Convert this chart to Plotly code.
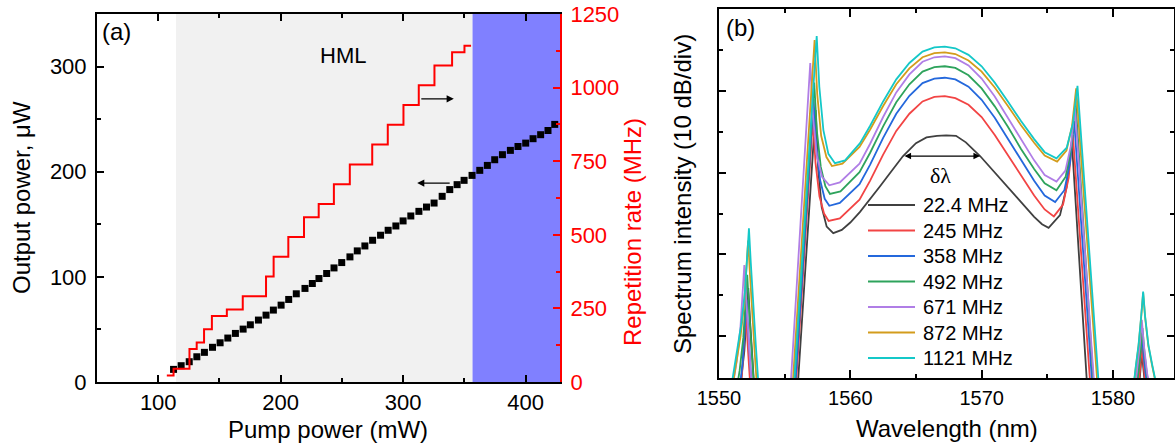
import plotly.graph_objects as go

# ---------------- panel (a) data ----------------
PUMP_MW = [112.5, 118.7, 125.3, 131.5, 137.7, 144.3, 150.5, 156.8, 163.0, 169.3,
           175.2, 181.8, 188.0, 194.0, 200.3, 206.5, 212.7, 219.8, 225.8, 231.2,
           237.5, 243.5, 249.8, 256.5, 262.5, 268.7, 275.0, 281.5, 287.7, 294.0,
           299.9, 306.2, 312.8, 319.0, 325.2, 331.8, 338.0, 344.0, 349.7, 356.2,
           362.5, 368.7, 374.7, 381.0, 387.5, 393.7, 400.0, 406.0, 412.2, 418.2, 423.7]
OUTPUT_UW = [12, 15.5, 19.3, 24, 28.2, 33, 37.3, 41.8, 46.2, 50.3,
             54.4, 58.9, 63.6, 68.4, 73.1, 78.5, 83.9, 89, 93.7, 98.4,
             103.2, 108.5, 113.6, 119, 124.7, 129.4, 134.8, 139.6, 144.3, 148.4,
             153.2, 157.9, 162.3, 166.4, 170.2, 176.6, 183, 187.7, 191.8, 196.5,
             201.3, 206, 211.4, 216.2, 220.3, 224, 227.2, 231.4, 235.2, 239.2, 245]
REP_PUMP_MW = [107, 112.5, 125.5, 131.4, 137.4, 143.8, 156, 169, 188, 194.2,
               206.2, 219, 231, 243.4, 256.4, 274.7, 287.4, 300.2, 312.7, 325.5,
               339.9, 350, 355.4]
REP_RATE_MHZ = [22.4, 44.8, 112, 134.4, 179.2, 224, 246.4, 291.2, 358.4, 425.6,
                492.8, 560, 604.8, 672, 739.2, 806.4, 873.6, 940.8, 1008, 1075.2,
                1120, 1142.4, 1142.4]
HML_START_MW = 114.5
HML_END_MW = 356.6

# ---------------- panel (b) data ----------------
WL_22 = [1550.80, 1551.25, 1551.65, 1551.93, 1552.10, 1552.23, 1552.37, 1552.55, 1552.75, 1553.0,
         1555.96, 1557.36, 1557.56, 1557.82, 1558.2, 1558.7, 1559.35, 1560.0, 1560.74, 1561.5,
         1562.25, 1563.0, 1564.0, 1565.0, 1565.8, 1566.6, 1567.3, 1568.05, 1568.8, 1569.9,
         1571.0, 1572.0, 1573.0, 1574.0, 1574.6, 1575.1, 1575.97, 1576.48, 1576.87, 1578.07,
         1581.4, 1581.65, 1581.85, 1582.05, 1582.2, 1582.35, 1582.6, 1582.9, 1583.35]
DB_22 = [-74.3, -69.8, -65.8, -61.8, -57.6, -54.1, -58.3, -63.8, -68.3, -74.3,
         -67, -32.35, -39.7, -44.2, -46.6, -47.4, -47.0, -46.1, -44.8, -43.3,
         -41.7, -40.1, -38.0, -36.4, -35.7, -35.5, -35.45, -35.5, -36.3, -38.0,
         -40.0, -41.9, -43.6, -45.4, -46.3, -46.75, -45.2, -41.7, -36.2, -67,
         -74.5, -71, -68.5, -65, -62, -65, -68.5, -71, -74.5]

WL_245 = [1550.62, 1551.07, 1551.47, 1551.75, 1551.92, 1552.05, 1552.19, 1552.37, 1552.57, 1552.82,
          1555.82, 1557.15, 1557.35, 1557.65, 1558.0, 1558.35, 1559.2, 1560.7, 1561.5, 1562.5,
          1563.5, 1564.5, 1565.5, 1566.4, 1567.2, 1568.0, 1569.0, 1570.0, 1571.0, 1572.0,
          1573.0, 1574.0, 1574.8, 1575.5, 1576.2, 1576.63, 1576.95, 1578.32,
          1581.4, 1581.65, 1581.85, 1582.05, 1582.2, 1582.35, 1582.6, 1582.9, 1583.35]
DB_245 = [-77.2, -72.7, -68.7, -64.7, -60.5, -57, -61.2, -66.7, -71.2, -77.2,
          -67, -33.5, -38.8, -42.9, -45.0, -45.9, -45.6, -43.3, -41.0, -37.8,
          -34.9, -32.8, -31.3, -30.75, -30.65, -30.9, -31.7, -33.2, -35.4, -37.9,
          -40.45, -42.8, -44.5, -45.35, -43.9, -40.6, -35.4, -67,
          -73.8, -70.3, -67.8, -64.3, -61.3, -64.3, -67.8, -70.3, -73.8]

WL_358 = [1550.67, 1551.12, 1551.52, 1551.8, 1551.97, 1552.1, 1552.24, 1552.42, 1552.62, 1552.87,
          1555.77, 1557.2, 1557.4, 1557.7, 1558.05, 1558.4, 1559.2, 1560.7, 1561.5, 1562.5,
          1563.5, 1564.5, 1565.5, 1566.4, 1567.2, 1568.0, 1569.0, 1570.0, 1571.0, 1572.0,
          1573.0, 1574.0, 1574.8, 1575.6, 1576.3, 1576.73, 1577.05, 1578.47,
          1581.4, 1581.65, 1581.85, 1582.05, 1582.2, 1582.35, 1582.6, 1582.9, 1583.35]
DB_358 = [-75.7, -71.2, -67.2, -63.2, -59.0, -55.5, -59.7, -65.2, -69.7, -75.7,
          -67, -31, -36.6, -40.9, -43.2, -44.05, -43.7, -41.4, -39.05, -35.75,
          -32.8, -30.6, -29.05, -28.5, -28.4, -28.6, -29.5, -31.1, -33.3, -35.9,
          -38.5, -41.0, -42.8, -43.6, -42.15, -38.85, -33.7, -67,
          -72.1, -68.6, -66.1, -62.6, -59.6, -62.6, -66.1, -68.6, -72.1]

WL_492 = [1550.72, 1551.17, 1551.57, 1551.85, 1552.02, 1552.15, 1552.29, 1552.47, 1552.67, 1552.92,
          1555.67, 1557.25, 1557.45, 1557.75, 1558.1, 1558.45, 1559.25, 1560.7, 1561.5, 1562.5,
          1563.5, 1564.5, 1565.5, 1566.4, 1567.2, 1568.0, 1569.0, 1570.0, 1571.0, 1572.0,
          1573.0, 1574.0, 1574.8, 1575.7, 1576.4, 1576.83, 1577.15, 1578.57,
          1581.45, 1581.7, 1581.9, 1582.1, 1582.25, 1582.4, 1582.65, 1582.95, 1583.4]
DB_492 = [-72.7, -68.2, -64.2, -60.2, -56.0, -52.5, -56.7, -62.2, -66.7, -72.7,
          -67, -29, -34.85, -39.3, -41.65, -42.6, -42.3, -39.95, -37.6, -34.35,
          -31.4, -29.2, -27.65, -27.1, -27.0, -27.2, -28.1, -29.7, -31.9, -34.4,
          -37.1, -39.55, -41.3, -42.15, -40.5, -36.9, -31.2, -67,
          -71.5, -68, -65.5, -62, -59, -62, -65.5, -68, -71.5]

WL_671 = [1550.5, 1550.95, 1551.35, 1551.63, 1551.8, 1551.93, 1552.07, 1552.25, 1552.45, 1552.7,
          1555.42, 1556.95, 1557.15, 1557.45, 1557.85, 1558.4, 1559.2, 1560.7, 1561.5, 1562.5,
          1563.5, 1564.5, 1565.5, 1566.4, 1567.2, 1568.0, 1569.0, 1570.0, 1571.0, 1572.0,
          1573.0, 1574.0, 1574.8, 1575.7, 1576.38, 1576.8, 1577.1, 1578.62,
          1581.4, 1581.65, 1581.85, 1582.05, 1582.2, 1582.35, 1582.6, 1582.9, 1583.35]
DB_671 = [-71.5, -67.0, -63.0, -59.0, -54.8, -51.3, -55.5, -61.0, -65.5, -71.5,
          -67, -26.6, -33.0, -37.95, -40.5, -41.55, -41.2, -38.9, -36.5, -33.2,
          -30.2, -28.0, -26.45, -25.9, -25.8, -26.0, -26.9, -28.5, -30.7, -33.3,
          -36.0, -38.5, -40.3, -41.1, -39.75, -36.7, -32.0, -67,
          -70.5, -67, -64.5, -61, -58, -61, -64.5, -67, -70.5]

WL_872 = [1550.79, 1551.24, 1551.64, 1551.92, 1552.09, 1552.22, 1552.36, 1552.54, 1552.74, 1552.99,
          1555.57, 1557.28, 1557.48, 1557.78, 1558.18, 1558.6, 1559.4, 1560.7, 1561.5, 1562.5,
          1563.5, 1564.5, 1565.5, 1566.4, 1567.2, 1568.0, 1569.0, 1570.0, 1571.0, 1572.0,
          1573.0, 1574.0, 1574.8, 1575.75, 1576.46, 1576.88, 1577.2, 1578.87,
          1581.5, 1581.75, 1581.95, 1582.15, 1582.3, 1582.45, 1582.7, 1583.0, 1583.45]
DB_872 = [-68.5, -64.0, -60.0, -56.0, -51.8, -48.3, -52.5, -58.0, -62.5, -68.5,
          -67, -23.8, -30.4, -35.5, -38.1, -39.2, -38.9, -36.85, -34.75, -31.85,
          -29.2, -27.25, -25.9, -25.4, -25.3, -25.5, -26.3, -27.65, -29.6, -31.85,
          -34.2, -36.35, -37.9, -38.65, -37.3, -34.35, -29.7, -67,
          -67.2, -63.7, -61.2, -57.7, -54.7, -57.7, -61.2, -63.7, -67.2]

WL_1121 = [1550.85, 1551.3, 1551.7, 1551.98, 1552.15, 1552.28, 1552.42, 1552.6, 1552.8, 1553.05,
           1555.67, 1557.44, 1557.64, 1557.95, 1558.33, 1558.83, 1559.6, 1560.74, 1561.5, 1562.5,
           1563.5, 1564.5, 1565.5, 1566.4, 1567.2, 1568.0, 1569.0, 1570.0, 1571.0, 1572.0,
           1573.0, 1574.0, 1574.8, 1575.7, 1576.48, 1576.95, 1577.3, 1578.97,
           1581.5, 1581.75, 1581.95, 1582.15, 1582.3, 1582.45, 1582.7, 1583.0, 1583.45]
DB_1121 = [-67.0, -62.5, -58.5, -54.5, -50.3, -46.8, -51.0, -56.5, -61.0, -67.0,
           -67, -23.3, -29.5, -34.8, -37.7, -38.85, -38.5, -36.4, -34.3, -31.3,
           -28.6, -26.6, -25.2, -24.7, -24.6, -24.8, -25.6, -27.0, -29.0, -31.3,
           -33.7, -35.9, -37.5, -38.25, -36.95, -34.0, -29.4, -67,
           -67.05, -63.55, -61.05, -57.55, -54.55, -57.55, -61.05, -63.55, -67.05]

SPEC_LABELS = ["22.4 MHz", "245 MHz", "358 MHz", "492 MHz", "671 MHz", "872 MHz", "1121 MHz"]
SPEC_COLORS = ["#404040", "#f24444", "#2468dc", "#2ea35c", "#b07ee6", "#d39c1c", "#14c8c8"]

# ---------------- figure ----------------
W, H = 1175, 446
FONT = "Liberation Sans, Arial, sans-serif"


def fx(p):
    return p / W


def fy(p):
    return 1 - p / H


fig = go.Figure()

fig.add_trace(go.Scatter(x=PUMP_MW, y=OUTPUT_UW, mode="markers", xaxis="x", yaxis="y",
                         marker=dict(symbol="square", size=7, color="black"),
                         showlegend=False))
fig.add_trace(go.Scatter(x=REP_PUMP_MW, y=REP_RATE_MHZ, mode="lines", line_shape="hv",
                         xaxis="x", yaxis="y2", line=dict(color="#ff0000", width=2),
                         showlegend=False))

spectra = [(WL_22, DB_22), (WL_245, DB_245), (WL_358, DB_358), (WL_492, DB_492),
           (WL_671, DB_671), (WL_872, DB_872), (WL_1121, DB_1121)]
for (wl, db), name, col in zip(spectra, SPEC_LABELS, SPEC_COLORS):
    fig.add_trace(go.Scatter(x=wl, y=db, mode="lines", name=name, xaxis="x2", yaxis="y3",
                             line=dict(color=col, width=1.8), showlegend=False))

tick_common = dict(showline=True, linecolor="black", linewidth=2, ticks="inside",
                   tickcolor="black", tickwidth=1.5, showgrid=False, zeroline=False,
                   automargin=False)

shapes = [
    dict(type="rect", xref="x", yref="y", x0=HML_START_MW, x1=HML_END_MW, y0=0, y1=350,
         fillcolor="#f1f1f1", line=dict(width=0), layer="below"),
    dict(type="rect", xref="x", yref="y", x0=HML_END_MW, x1=428, y0=0, y1=350,
         fillcolor="#8080ff", line=dict(width=0), layer="below"),
]

ann = []


def txt(text, x, y, size, color="black", angle=0, xanchor="center", family=FONT):
    ann.append(dict(text=text, x=fx(x), y=fy(y), xref="paper", yref="paper",
                    xanchor=xanchor, yanchor="middle", textangle=angle, showarrow=False,
                    font=dict(size=size, family=family, color=color)))


txt("(a)", 100, 32, 24, xanchor="left")
txt("(b)", 724, 28, 24, xanchor="left")
txt("HML", 343, 55, 22)
txt("Pump power (mW)", 328, 429, 24)
txt("Output power, μW", 22, 198, 24, angle=-90)
txt("Repetition rate (MHz)", 633, 232, 24, color="#ff0000", angle=-90)
txt("Wavelength (nm)", 947, 428, 24)
txt("Spectrum intensity (10 dB/div)", 683, 194, 24, angle=-90)
txt("δλ", 940, 175, 22, family="Liberation Serif, Times New Roman, serif")

# arrows in panel (a)
ann.append(dict(text="", x=341.3, y=269.3, xref="x", yref="y", ax=-34, ay=0, showarrow=True,
                arrowhead=2, arrowsize=1.1, arrowwidth=1.3, arrowcolor="black"))
ann.append(dict(text="", x=311.4, y=189.2, xref="x", yref="y", ax=34, ay=0, showarrow=True,
                arrowhead=2, arrowsize=1.1, arrowwidth=1.3, arrowcolor="black"))
# delta lambda double arrow
ann.append(dict(text="", x=1569.88, y=-37.97, xref="x2", yref="y3", ax=1564.01, ay=-37.97,
                axref="x2", ayref="y3", showarrow=True, arrowside="end+start",
                arrowhead=2, startarrowhead=2, arrowsize=1.1, startarrowsize=1.1,
                arrowwidth=1.2, arrowcolor="black"))

# legend for panel (b), drawn as line samples + labels
for i, (name, col) in enumerate(zip(SPEC_LABELS, SPEC_COLORS)):
    row_y = 205 + 25.5 * i
    shapes.append(dict(type="line", xref="paper", yref="paper", x0=fx(868), x1=fx(915),
                       y0=fy(row_y), y1=fy(row_y), line=dict(color=col, width=2)))
    txt(name, 921, row_y, 20, xanchor="left")

fig.update_layout(
    width=W, height=H,
    margin=dict(l=0, r=0, t=0, b=0),
    paper_bgcolor="white", plot_bgcolor="white",
    template="none",
    showlegend=False,
    font=dict(family=FONT, color="black"),
    xaxis=dict(domain=[fx(97), fx(560)], range=[50, 428], anchor="y",
               dtick=100, tick0=0, ticklen=7, mirror="ticks",
               minor=dict(ticks="inside", ticklen=4, dtick=50, tickcolor="black", tickwidth=1.5),
               tickfont=dict(size=22, family=FONT), ticklabelstandoff=0, **tick_common),
    yaxis=dict(domain=[fy(382), fy(14)], range=[0, 350], anchor="x",
               dtick=100, tick0=0, ticklen=7,
               minor=dict(ticks="inside", ticklen=4, dtick=50, tickcolor="black", tickwidth=1.5),
               tickfont=dict(size=22, family=FONT), ticklabelstandoff=4, **tick_common),
    yaxis2=dict(range=[0, 1250], overlaying="y", side="right", anchor="x",
                dtick=250, tick0=0, ticklen=7, showline=True, linecolor="#ff0000", linewidth=2,
                ticks="inside", tickcolor="#ff0000", tickwidth=1.5, showgrid=False,
                zeroline=False, automargin=False,
                minor=dict(ticks="inside", ticklen=4, dtick=125, tickcolor="#ff0000", tickwidth=1.5),
                tickfont=dict(size=22, family=FONT, color="#ff0000"), ticklabelstandoff=4),
    xaxis2=dict(domain=[fx(719), fx(1174)], range=[1550, 1584.65], anchor="y3",
                dtick=10, tick0=1550, ticklen=8, mirror="ticks",
                minor=dict(ticks="inside", ticklen=4, dtick=5, tickcolor="black", tickwidth=1.5),
                tickfont=dict(size=20, family=FONT), ticklabelstandoff=1, **tick_common),
    yaxis3=dict(domain=[fy(378), fy(9)], range=[-65.1, -20], anchor="x2",
                dtick=10, tick0=-20, ticklen=7, mirror="ticks", showticklabels=False,
                minor=dict(ticks="inside", ticklen=4, dtick=5, tickcolor="black", tickwidth=1.5),
                **tick_common),
    shapes=shapes,
    annotations=ann,
)

fig.write_html("out.html", config={"displayModeBar": False},
               post_script="document.body.style.margin='0';")
